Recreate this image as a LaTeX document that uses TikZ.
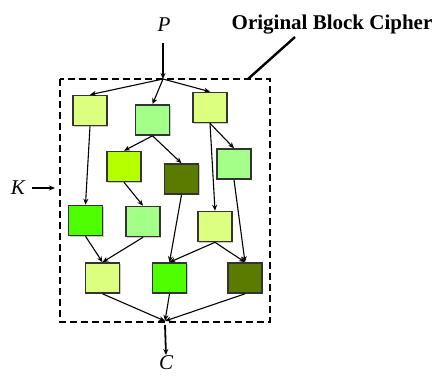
\documentclass[tikz,border=0pt]{standalone}
\usepackage{fontspec}
\setmainfont{Liberation Serif}
\usetikzlibrary{arrows.meta,shadows}
\definecolor{lyel}{HTML}{DCFF80}
\definecolor{lgrn}{HTML}{A4FF88}
\definecolor{ygrn}{HTML}{B6FF00}
\definecolor{dolv}{HTML}{5B7B00}
\definecolor{bgrn}{HTML}{4DFF00}
\begin{document}
\begin{tikzpicture}[x=1pt,y=-1pt,
  blk/.style={draw=black!80,line width=1.6pt,minimum width=34pt,minimum height=30pt,inner sep=0pt,
    drop shadow={shadow xshift=1.2pt,shadow yshift=-1.2pt,fill=black!35,opacity=0.6}},
  ar/.style={-{Stealth[length=6pt,width=5pt]},line width=1.1pt},
  lbl/.style={font=\fontsize{21}{21}\selectfont\itshape,inner sep=0pt}]
\useasboundingbox (0,0) rectangle (435,376);
\draw[line width=2.2pt,dash pattern=on 7pt off 4pt] (60,79) rectangle (270,322);
\node[lbl] (P) at (164,25) {P};
\node[font=\fontsize{21}{21}\selectfont\bfseries,inner sep=0pt] (T) at (332,25) {Original Block Cipher};
\coordinate (tl) at (295,37);
\coordinate (te) at (248,79);
\draw[line width=2.4pt] (tl) -- (te);
\coordinate (top) at (163,79);
\coordinate (bot) at (165,321);
\node[blk,fill=lyel] (A) at (90,110.5) {};
\node[blk,fill=lgrn] (B) at (152.5,120) {};
\node[blk,fill=lyel] (C) at (210,107.5) {};
\node[blk,fill=ygrn] (D) at (124,166.5) {};
\node[blk,fill=dolv] (E) at (181.5,179) {};
\node[blk,fill=lgrn] (F) at (234,164) {};
\node[blk,fill=bgrn] (G) at (85.5,220.5) {};
\node[blk,fill=lgrn] (H) at (143,221.5) {};
\node[blk,fill=lyel] (I) at (215,226.5) {};
\node[blk,fill=lyel] (J) at (102.5,278) {};
\node[blk,fill=bgrn] (K) at (169.5,278) {};
\node[blk,fill=dolv] (L) at (245,278) {};
\coordinate (p0) at (163,43);
\draw[ar] (p0) -- (top);
\draw[ar] (top) -- (A.north);
\draw[ar] (top) -- (B.north);
\draw[ar] (top) -- (C.north);
\draw[ar] (A.south) -- (G.north);
\draw[ar] (B.south) -- (D.north);
\draw[ar] (B.south) -- (E.north);
\draw[ar] (C.south) -- (I.north);
\draw[ar] (C.south) -- (F.north);
\draw[ar] (D.south) -- (H.north);
\draw[ar] (E.south) -- (K.north);
\draw[ar] (F.south) -- (L.north);
\draw[ar] (G.south) -- (J.north);
\draw[ar] (H.south) -- (J.north);
\draw[ar] (I.south) -- (K.north);
\draw[ar] (I.south) -- (L.north);
\draw[ar] (J.south) -- (bot);
\draw[ar] (K.south) -- (bot);
\draw[ar] (L.south) -- (bot);
\coordinate (cb) at (165,325);
\node[lbl,anchor=north] (Cn) at (166,355) {C};
\draw[ar,line width=1.8pt] (cb) -- (Cn.north);
\node[lbl] (Kn) at (18,188) {K};
\coordinate (k0) at (32,188);
\coordinate (ke) at (55,188);
\draw[ar] (k0) -- (ke);
\end{tikzpicture}
\end{document}
